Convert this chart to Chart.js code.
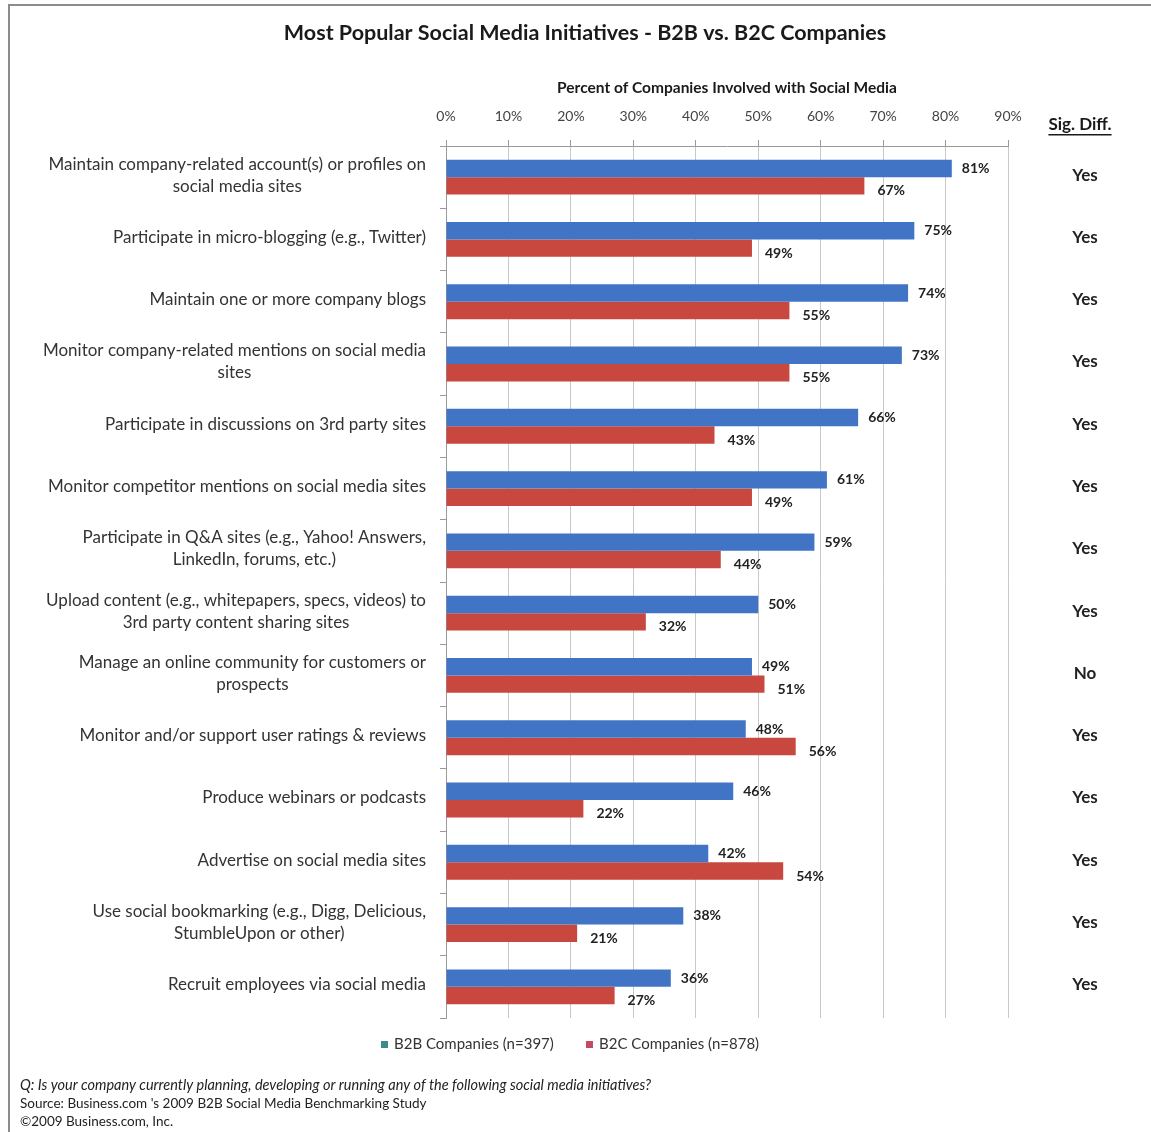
<!DOCTYPE html>
<html lang="en">
<head>
    <meta charset="UTF-8" />
    <title>Most Popular Social Media Initiatives - B2B vs. B2C Companies</title>
    <script src="https://cdn.jsdelivr.net/npm/chart.js"></script>
    <style>
        html, body { margin: 0; padding: 0; background: #fff; }
        canvas { display: block; }
    </style>
</head>
<body>
<canvas id="socialChart" width="1151" height="1132"></canvas>

<script>
    // survey answers, one entry per initiative
    const categories = [
        ["Maintain company-related account(s) or profiles on", "social media sites"],
        ["Participate in micro-blogging (e.g., Twitter)"],
        ["Maintain one or more company blogs"],
        ["Monitor company-related mentions on social media", "sites"],
        ["Participate in discussions on 3rd party sites"],
        ["Monitor competitor mentions on social media sites"],
        ["Participate in Q&A sites (e.g., Yahoo! Answers,", "LinkedIn, forums, etc.)"],
        ["Upload content (e.g., whitepapers, specs, videos) to", "3rd party content sharing sites"],
        ["Manage an online community for customers or", "prospects"],
        ["Monitor and/or support user ratings & reviews"],
        ["Produce webinars or podcasts"],
        ["Advertise on social media sites"],
        ["Use social bookmarking (e.g., Digg, Delicious,", "StumbleUpon or other)"],
        ["Recruit employees via social media"]
    ];
    const b2bValues = [81, 75, 74, 73, 66, 61, 59, 50, 49, 48, 46, 42, 38, 36];
    const b2cValues = [67, 49, 55, 55, 43, 49, 44, 32, 51, 56, 22, 54, 21, 27];
    const sigDiff = ["Yes", "Yes", "Yes", "Yes", "Yes", "Yes", "Yes", "Yes", "No", "Yes", "Yes", "Yes", "Yes", "Yes"];
    const seriesLabels = ["B2B Companies (n=397)", "B2C Companies (n=878)"];
    const xTicks = [0, 10, 20, 30, 40, 50, 60, 70, 80, 90];

    const FONT = "Lato, 'Open Sans', sans-serif";
    const BLUE = "#4274C6";
    const RED = "#C8473F";
    const LEGEND_MARKS = ["#3D8A86", "#C44A62"];

    // everything that is not a bar: frame, titles, labels, legend, footnotes
    const decorations = {
        id: "decorations",
        beforeDraw(chart) {
            const ctx = chart.ctx;
            ctx.save();
            ctx.fillStyle = "#fff";
            ctx.fillRect(0, 0, chart.width, chart.height);
            ctx.strokeStyle = "#8c8c8c";
            ctx.lineWidth = 2;
            ctx.beginPath();
            ctx.moveTo(9, chart.height);
            ctx.lineTo(9, 5);
            ctx.lineTo(chart.width, 5);
            ctx.stroke();
            ctx.restore();
        },
        afterDraw(chart) {
            const ctx = chart.ctx;
            const yScale = chart.scales.y;
            ctx.save();

            // main title
            ctx.fillStyle = "#1a1a1a";
            ctx.font = "bold 21.5px " + FONT;
            ctx.textAlign = "center";
            ctx.textBaseline = "middle";
            ctx.fillText("Most Popular Social Media Initiatives - B2B vs. B2C Companies", 585, 33);

            // significance column header
            ctx.font = "bold 17px " + FONT;
            ctx.fillText("Sig. Diff.", 1080, 125);
            const hw = ctx.measureText("Sig. Diff.").width;
            ctx.fillRect(1080 - hw / 2, 134, hw, 1.5);

            // category labels: block right-aligned, lines centred in the block
            ctx.font = "17px " + FONT;
            ctx.fillStyle = "#333";
            categories.forEach((lines, i) => {
                const cy = yScale.getPixelForValue(i);
                const w = Math.max(...lines.map(l => ctx.measureText(l).width));
                const cx = chart.chartArea.left - 20 - w / 2;
                const lh = 22;
                const top = cy - 2 - (lines.length - 1) * lh / 2;
                lines.forEach((l, k) => ctx.fillText(l, cx, top + k * lh));
            });

            // Yes / No column
            ctx.font = "bold 17px " + FONT;
            ctx.fillStyle = "#222";
            sigDiff.forEach((s, i) => {
                ctx.fillText(s, 1085, yScale.getPixelForValue(i) - 2);
            });

            // value labels at the end of each bar
            ctx.font = "bold 14px " + FONT;
            ctx.textAlign = "left";
            chart.data.datasets.forEach((ds, d) => {
                chart.getDatasetMeta(d).data.forEach((bar, i) => {
                    const dy = d === 0 ? 0 : 5;
                    ctx.fillText(ds.data[i] + "%", bar.x + (d === 0 ? 10 : 13), bar.y + dy);
                });
            });

            // legend
            ctx.font = "15px " + FONT;
            const legendX = [381, 586];
            chart.data.datasets.forEach((ds, d) => {
                ctx.fillStyle = LEGEND_MARKS[d];
                ctx.fillRect(legendX[d], 1041, 7, 7);
                ctx.fillStyle = "#333";
                ctx.fillText(ds.label, legendX[d] + 13, 1044);
            });

            // footnotes
            ctx.fillStyle = "#222";
            ctx.font = "italic 14.5px " + FONT;
            ctx.fillText("Q: Is your company currently planning, developing or running any of the following social media initiatives?", 20, 1085);
            ctx.font = "13.5px " + FONT;
            ctx.fillText("Source: Business.com 's 2009 B2B Social Media Benchmarking Study", 20, 1104);
            ctx.fillText("\u00A92009 Business.com, Inc.", 20, 1122);

            ctx.restore();
        }
    };

    const ctx = document.getElementById("socialChart").getContext("2d");
    new Chart(ctx, {
        type: "bar",
        data: {
            labels: categories,
            datasets: [
                { label: seriesLabels[0], data: b2bValues, backgroundColor: BLUE },
                { label: seriesLabels[1], data: b2cValues, backgroundColor: RED }
            ]
        },
        options: {
            indexAxis: "y",
            responsive: false,
            animation: false,
            categoryPercentage: 0.56,
            barPercentage: 1.0,
            layout: { padding: { left: 0, right: 143, top: 0, bottom: 114 } },
            plugins: {
                legend: { display: false },
                tooltip: { enabled: false }
            },
            scales: {
                x: {
                    position: "top",
                    min: 0,
                    max: 90,
                    afterBuildTicks(scale) {
                        scale.ticks = xTicks.map(v => ({ value: v }));
                    },
                    afterFit(scale) { scale.height = 146; },
                    ticks: {
                        padding: 15,
                        color: "#444",
                        font: { family: FONT, size: 14 },
                        callback: v => v + "%"
                    },
                    grid: { color: "#c9c9c9", tickLength: 6, tickColor: "#9a9a9a" },
                    border: { color: "#9a9a9a" },
                    title: {
                        display: true,
                        text: "Percent of Companies Involved with Social Media",
                        color: "#1a1a1a",
                        font: { family: FONT, size: 15.5, weight: "bold" },
                        padding: { top: 79, bottom: 0 }
                    }
                },
                y: {
                    afterFit(scale) { scale.width = 446; },
                    ticks: { display: false },
                    grid: { drawOnChartArea: false, tickLength: 6, color: "#9a9a9a" },
                    border: { color: "#9a9a9a" }
                }
            }
        },
        plugins: [decorations]
    });
</script>
</body>
</html>
